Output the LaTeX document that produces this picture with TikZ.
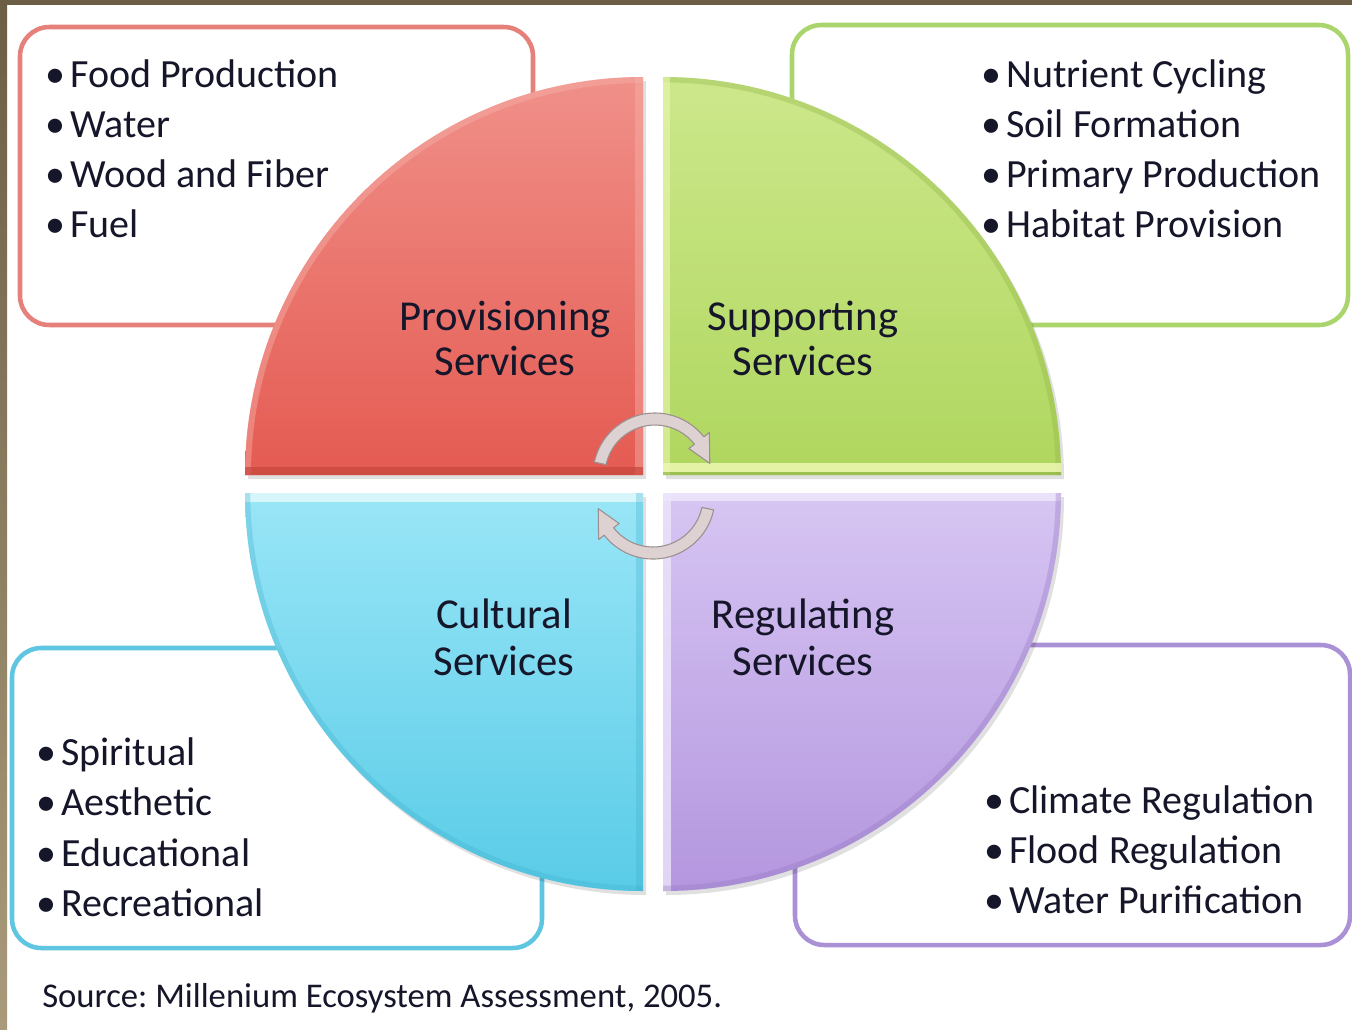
\documentclass[tikz,border=0pt]{standalone}
\usepackage{fontspec}
\setmainfont{Carlito}
\usetikzlibrary{calc}

\definecolor{frameDark}{HTML}{6B5E45}
\definecolor{frameLight}{HTML}{A99B7A}
\definecolor{inkText}{HTML}{16162A}

\definecolor{provLine}{HTML}{E5807B}
\definecolor{provTop}{HTML}{F0918A}
\definecolor{provBot}{HTML}{E45A51}
\definecolor{provEdge}{HTML}{C7463E}
\definecolor{provGlow}{HTML}{F6B0A9}

\definecolor{suppLine}{HTML}{AAD46C}
\definecolor{suppTop}{HTML}{CDE88C}
\definecolor{suppBot}{HTML}{AFD65E}
\definecolor{suppEdge}{HTML}{8FB447}
\definecolor{suppGlow}{HTML}{ECF7B2}

\definecolor{cultLine}{HTML}{5EC6E0}
\definecolor{cultTop}{HTML}{9AE6F7}
\definecolor{cultBot}{HTML}{58CBE7}
\definecolor{cultEdge}{HTML}{3FAFCB}
\definecolor{cultGlow}{HTML}{DDF8FD}

\definecolor{reguLine}{HTML}{AA90D5}
\definecolor{reguTop}{HTML}{D7C6F3}
\definecolor{reguBot}{HTML}{B395DE}
\definecolor{reguEdge}{HTML}{9478C2}
\definecolor{reguGlow}{HTML}{EDE5FB}

\definecolor{cycFill}{HTML}{DED1D1}
\definecolor{cycLine}{HTML}{9C8F8F}

\tikzset{
  listbox/.style={line width=3.4pt, rounded corners=22pt, fill=white},
  item/.style={inner sep=0pt, anchor=base west, text=inkText,
    font=\fontsize{30}{36}\selectfont},
  title/.style={inner sep=0pt, anchor=base, text=inkText,
    font=\fontsize{32}{38}\selectfont},
  cycle arrow/.style={fill=cycFill, draw=cycLine, line width=0.8pt, line join=round},
  drop/.style={fill=black, opacity=0.12},
}
\newcommand{\bul}{\makebox[18.75pt][l]{\textbullet}}

\begin{document}
\begin{tikzpicture}[x=0.75pt, y=-0.75pt]
\useasboundingbox (0,0) rectangle (1352,1029);
\fill[white] (0,0) rectangle (1352,1029);

% dark frame along the top and left
\shade[top color=frameDark, bottom color=frameLight] (0,0) rectangle (7,1029);
\fill[frameDark] (0,0) rectangle (1352,5);

% rounded boxes holding the lists
\draw[listbox, draw=provLine] (20,27) rectangle (533,325);
\draw[listbox, draw=suppLine] (792,25) rectangle (1348,325);
\draw[listbox, draw=cultLine] (12,648) rectangle (542,948);
\draw[listbox, draw=reguLine] (795,645) rectangle (1350,945);

% soft shadows under the four quarters
\fill[drop] (646,479) -- (248,479) arc[start angle=180,end angle=270,radius=398] -- cycle;
\fill[drop] (666,479) -- (666,81) arc[start angle=270,end angle=360,radius=398] -- cycle;
\fill[drop] (646,497) -- (646,895) arc[start angle=90,end angle=180,radius=398] -- cycle;
\fill[drop] (666,497) -- (1064,497) arc[start angle=0,end angle=90,radius=398] -- cycle;

% Provisioning quarter
\begin{scope}
  \clip (643,475) -- (245,475) arc[start angle=180,end angle=270,radius=398] -- cycle;
  \shade[top color=provTop, bottom color=provBot] (240,70) rectangle (650,480);
  \draw[provGlow, line width=9pt, opacity=0.45] (245,475) arc[start angle=180,end angle=270,radius=398];
  \fill[provGlow, opacity=0.45] (635,70) rectangle (643,475);
  \fill[provEdge, opacity=0.7] (240,467) rectangle (650,476);
\end{scope}

% Supporting quarter
\begin{scope}
  \clip (663,475) -- (663,77) arc[start angle=270,end angle=360,radius=398] -- cycle;
  \shade[top color=suppTop, bottom color=suppBot] (655,70) rectangle (1070,480);
  \draw[suppEdge, line width=8pt, opacity=0.35] (663,77) arc[start angle=270,end angle=360,radius=398];
  \fill[suppGlow, opacity=0.6] (663,70) rectangle (670,475);
  \fill[suppGlow, opacity=0.85] (655,463) rectangle (1070,472);
  \fill[suppEdge, opacity=0.6] (655,472) rectangle (1070,476);
\end{scope}

% Cultural quarter
\begin{scope}
  \clip (643,493) -- (643,891) arc[start angle=90,end angle=180,radius=398] -- cycle;
  \shade[top color=cultTop, bottom color=cultBot] (240,488) rectangle (650,900);
  \fill[cultGlow, opacity=0.9] (240,493) rectangle (650,502);
  \fill[cultEdge, opacity=0.3] (636,493) rectangle (643,900);
  \draw[cultEdge, line width=8pt, opacity=0.3] (643,891) arc[start angle=90,end angle=180,radius=398];
\end{scope}

% Regulating quarter
\begin{scope}
  \clip (663,493) -- (1061,493) arc[start angle=0,end angle=90,radius=398] -- cycle;
  \shade[top color=reguTop, bottom color=reguBot] (655,488) rectangle (1070,900);
  \fill[reguGlow, opacity=0.9] (655,493) rectangle (1070,501);
  \fill[reguGlow, opacity=0.8] (663,493) rectangle (671,900);
  \draw[reguEdge, line width=8pt, opacity=0.35] (1061,493) arc[start angle=0,end angle=90,radius=398];
\end{scope}

% circular arrows in the middle
\coordinate (cycTop) at (655,475);
\coordinate (cycBot) at (653,497);
\filldraw[cycle arrow] ($(cycTop)+(192:62)$) arc[start angle=192,end angle=322,radius=62]
  -- ($(cycTop)+(322:69)$) -- ($(cycTop)+(348:56)$) -- ($(cycTop)+(322:43)$)
  -- ($(cycTop)+(322:50)$) arc[start angle=322,end angle=192,radius=50] -- cycle;
\filldraw[cycle arrow] ($(cycBot)+(12:62)$) arc[start angle=12,end angle=142,radius=62]
  -- ($(cycBot)+(142:69)$) -- ($(cycBot)+(168:56)$) -- ($(cycBot)+(142:43)$)
  -- ($(cycBot)+(142:50)$) arc[start angle=142,end angle=12,radius=50] -- cycle;

% quarter titles
\node[title] (provA) at (505,330) {Provisioning};
\node[title] (provB) at (505,375) {Services};
\node[title] (suppA) at (803,330) {Supporting};
\node[title] (suppB) at (803,375) {Services};
\node[title] (cultA) at (504,628) {Cultural};
\node[title] (cultB) at (504,675) {Services};
\node[title] (reguA) at (803,628) {Regulating};
\node[title] (reguB) at (803,675) {Services};

% provisioning list
\node[item] (prov1) at (45,87)  {\bul Food Production};
\node[item] (prov2) at (45,137) {\bul Water};
\node[item] (prov3) at (45,187) {\bul Wood and Fiber};
\node[item] (prov4) at (45,237) {\bul Fuel};

% supporting list
\node[item] (supp1) at (981,87)  {\bul Nutrient Cycling};
\node[item] (supp2) at (981,137) {\bul Soil Formation};
\node[item] (supp3) at (981,187) {\bul Primary Production};
\node[item] (supp4) at (981,237) {\bul Habitat Provision};

% cultural list
\node[item] (cult1) at (36,765) {\bul Spiritual};
\node[item] (cult2) at (36,815) {\bul Aesthetic};
\node[item] (cult3) at (36,866) {\bul Educational};
\node[item] (cult4) at (36,916) {\bul Recreational};

% regulating list
\node[item] (regu1) at (984,813) {\bul Climate Regulation};
\node[item] (regu2) at (984,863) {\bul Flood Regulation};
\node[item] (regu3) at (984,913) {\bul Water Purification};

% source line
\node[inner sep=0pt, anchor=base west, text=inkText, font=\fontsize{26}{30}\selectfont]
  (source) at (42,1007) {Source:\ Millenium Ecosystem Assessment, 2005.};
\end{tikzpicture}
\end{document}
